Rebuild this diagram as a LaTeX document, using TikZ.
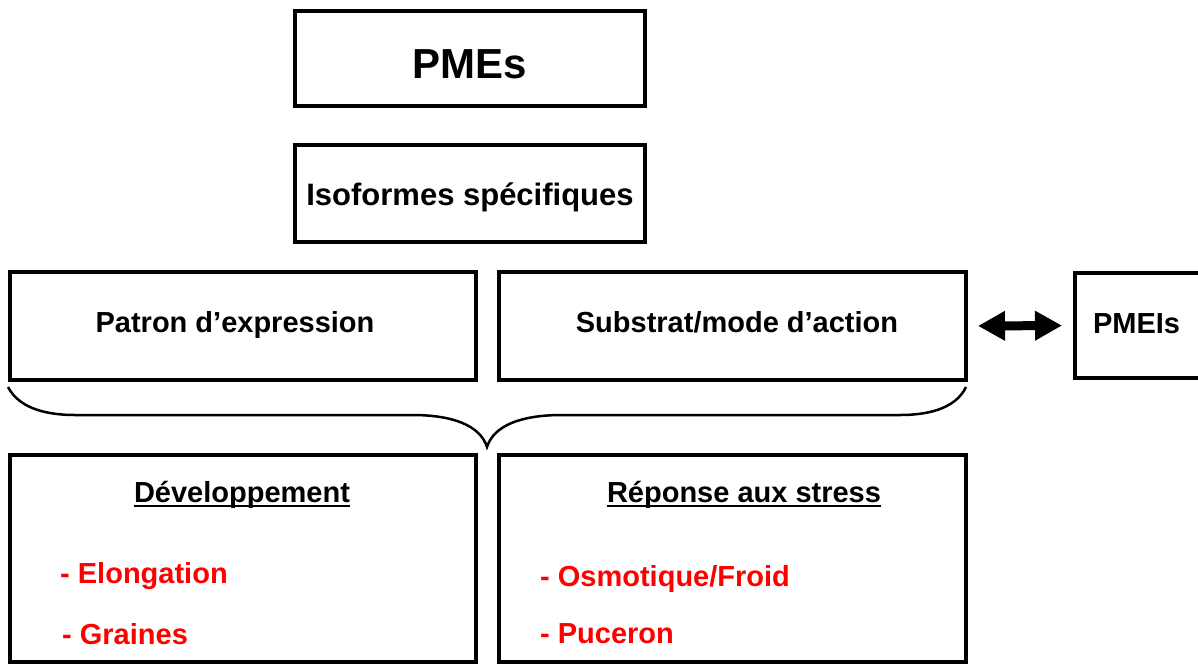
\documentclass[tikz,border=0pt]{standalone}
\usepackage{fontspec}
\setmainfont{Liberation Sans}
\usetikzlibrary{arrows.meta}
\definecolor{txtred}{RGB}{255,0,0}
\begin{document}
\begin{tikzpicture}[x=1pt,y=-1pt,
  box/.style={draw=black,line width=4pt,inner sep=0pt},
  lbl/.style={inner sep=0pt,anchor=base,font=\bfseries\fontsize{29}{34}\selectfont},
  item/.style={lbl,anchor=base west,text=txtred},
  uline/.style={line width=2pt},
  brace/.style={line width=2.5pt},
  dblarrow/.style={line width=9pt,{Triangle[length=27pt,width=28pt]}-{Triangle[length=27pt,width=28pt]}}
]
\useasboundingbox (0,0) rectangle (1198,665);
\clip (0,0) rectangle (1198,665);
% boxes
\node[box,minimum width=350pt,minimum height=95pt] (pmes) at (470,58.5) {};
\node[box,minimum width=350pt,minimum height=97pt] (iso) at (470,193.5) {};
\node[box,minimum width=466pt,minimum height=108pt] (patron) at (243,326) {};
\node[box,minimum width=467pt,minimum height=108pt] (subst) at (732.5,326) {};
\node[box,minimum width=175pt,minimum height=105pt] (pmeis) at (1162.5,325.5) {};
\node[box,minimum width=466pt,minimum height=207pt] (dev) at (243,558.5) {};
\node[box,minimum width=467pt,minimum height=207pt] (rep) at (732.5,558.5) {};
% labels
\node[lbl,font=\bfseries\fontsize{42}{48}\selectfont] (pmest) at (470,78) {PMEs};
\node[lbl,font=\bfseries\fontsize{31}{36}\selectfont] (isot) at (470,205) {Isoformes spécifiques};
\node[lbl] (patront) at (235,332) {Patron d’expression};
\node[lbl] (substt) at (737,332) {Substrat/mode d’action};
\node[lbl] (pmeist) at (1136.5,333) {PMEIs};
\node[lbl] (devt) at (242,502) {Développement};
\node[lbl] (rept) at (744,502) {Réponse aux stress};
\draw[uline] ([yshift=-4pt]devt.base west) -- ([yshift=-4pt]devt.base east);
\draw[uline] ([yshift=-4pt]rept.base west) -- ([yshift=-4pt]rept.base east);
\node[item] (elong) at (60,583) {- Elongation};
\node[item] (graines) at (62,644) {- Graines};
\node[item] (osmo) at (540,586) {- Osmotique/Froid};
\node[item] (puc) at (540,643) {- Puceron};
% brace
\draw[brace] (8,387) .. controls (20,410) and (50,415) .. (75,415) -- (412,415)
  .. controls (452,415) and (480,425) .. (487,447)
  .. controls (494,425) and (522,415) .. (562,415) -- (900,415)
  .. controls (925,415) and (955,410) .. (966,387);
% double arrow
\draw[dblarrow,shorten <=10pt,shorten >=11pt] (subst.east) -- (pmeis.west);
\end{tikzpicture}
\end{document}
